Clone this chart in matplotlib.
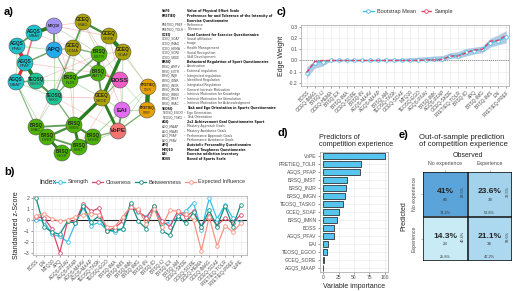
import matplotlib
matplotlib.use('Agg')
import matplotlib.pyplot as plt
import numpy as np
from matplotlib.lines import Line2D
from matplotlib.patches import Circle
from matplotlib.colors import LinearSegmentedColormap, Normalize
from matplotlib import font_manager as fm

plt.rcParams['font.family'] = ['Liberation Sans', 'DejaVu Sans']
_font_names = {f.name for f in fm.fontManager.ttflist}
_cond = [f for f in fm.fontManager.ttflist if f.stretch in ('condensed', 'semi-condensed', 'extra-condensed')]
if 'Liberation Sans Narrow' in _font_names:
    NARROW = dict(family=['Liberation Sans Narrow'])
elif _cond:
    NARROW = dict(family=[_cond[0].name], fontstretch=_cond[0].stretch)
else:
    NARROW = dict(family=['Liberation Sans'])

# ---------------- DATA ----------------
net_nodes = ['MTQ10', 'GCEQ_IMAG', 'AGQS_MAAV', 'APQ', 'GCEQ_HEMA', 'GCEQ_SORE', 'GCEQ_SOAF',
             'AGQS_PFAV', 'BRSQ_EXTR', 'AGQS_PFAP', 'BRSQ_AMTV', 'BRSQ_INJR', 'TEOSQ_EGOO',
             'AGQS_MAAP', 'BOSS', 'PRETIEQ_TOLR', 'TEOSQ_TSKO', 'GCEQ_SKDE', 'EAI', 'PRETIEQ_PREF',
             'VoPE', 'BRSQ_IMAC', 'BRSQ_IMKN', 'BRSQ_IDNR', 'BRSQ_IMGN', 'BRSQ_IMST', 'BRSQ_INGR']
net_x = [54, 83, 34, 54, 73, 109, 123, 17, 99, 25, 98, 70, 36, 16, 120, 148, 54, 102, 122, 147,
         118, 36, 74, 47, 93, 79, 62]
net_y = [26, 22, 33, 50, 48, 36, 52, 46, 54, 63, 73, 80, 81, 82, 80, 87, 97, 98, 110, 110,
         131, 127, 125, 137, 137, 147, 153]
net_edges = [
    ('AGQS_MAAV', 'MTQ10', 0.35), ('AGQS_MAAV', 'AGQS_PFAV', 0.15), ('AGQS_PFAV', 'AGQS_PFAP', -0.35),
    ('AGQS_PFAP', 'AGQS_MAAP', -0.28), ('AGQS_MAAV', 'AGQS_PFAP', -0.12), ('AGQS_PFAP', 'TEOSQ_EGOO', 0.35),
    ('AGQS_MAAP', 'TEOSQ_EGOO', 0.12), ('APQ', 'MTQ10', 0.15), ('APQ', 'AGQS_PFAP', 0.12),
    ('APQ', 'GCEQ_HEMA', 0.08), ('GCEQ_IMAG', 'GCEQ_SORE', 0.2), ('GCEQ_SORE', 'GCEQ_SOAF', 0.38),
    ('GCEQ_SOAF', 'GCEQ_SKDE', 0.3), ('GCEQ_IMAG', 'GCEQ_HEMA', 0.15), ('GCEQ_HEMA', 'BRSQ_EXTR', 0.1),
    ('BRSQ_EXTR', 'BRSQ_AMTV', 0.3), ('BRSQ_AMTV', 'BRSQ_INJR', 0.22), ('BRSQ_EXTR', 'BRSQ_INJR', 0.12),
    ('BRSQ_INJR', 'TEOSQ_TSKO', 0.1), ('TEOSQ_TSKO', 'TEOSQ_EGOO', 0.18), ('GCEQ_SKDE', 'BRSQ_IMKN', 0.3),
    ('GCEQ_SKDE', 'BRSQ_AMTV', 0.15), ('EAI', 'VoPE', 0.15), ('PRETIEQ_TOLR', 'PRETIEQ_PREF', 0.42),
    ('VoPE', 'PRETIEQ_PREF', 0.1), ('VoPE', 'GCEQ_SKDE', 0.25), ('BRSQ_IMKN', 'BRSQ_IMST', 0.25),
    ('BRSQ_IMST', 'BRSQ_IMGN', 0.38), ('BRSQ_IMKN', 'BRSQ_IMGN', 0.2), ('BRSQ_IMKN', 'BRSQ_IDNR', 0.2),
    ('BRSQ_IDNR', 'BRSQ_INGR', 0.25), ('BRSQ_IDNR', 'BRSQ_IMAC', 0.2), ('BRSQ_IMAC', 'BRSQ_IMKN', 0.15),
    ('BRSQ_INGR', 'BRSQ_IMST', 0.2), ('BRSQ_IDNR', 'BRSQ_IMST', 0.15), ('BRSQ_IMGN', 'VoPE', 0.1),
    ('AGQS_MAAP', 'BRSQ_IMAC', 0.08), ('TEOSQ_TSKO', 'BRSQ_IMKN', 0.1), ('GCEQ_HEMA', 'TEOSQ_TSKO', 0.08),
    ('APQ', 'BRSQ_INJR', 0.08), ('BOSS', 'BRSQ_AMTV', -0.1), ('BOSS', 'GCEQ_SKDE', 0.08),
    ('MTQ10', 'GCEQ_SORE', -0.05), ('MTQ10', 'GCEQ_IMAG', -0.04), ('APQ', 'BOSS', -0.04),
    ('GCEQ_IMAG', 'BOSS', -0.04), ('TEOSQ_EGOO', 'BRSQ_EXTR', -0.04), ('AGQS_PFAP', 'BRSQ_AMTV', -0.04),
    ('TEOSQ_TSKO', 'GCEQ_SKDE', -0.05), ('BRSQ_INJR', 'BRSQ_IMKN', -0.04), ('GCEQ_SORE', 'BOSS', -0.05),
    ('BRSQ_EXTR', 'EAI', -0.04), ('BRSQ_IMST', 'BOSS', -0.04), ('AGQS_MAAV', 'GCEQ_HEMA', -0.03),
    ('TEOSQ_TSKO', 'VoPE', -0.03), ('GCEQ_HEMA', 'BRSQ_IMAC', -0.04), ('MTQ10', 'BRSQ_INJR', -0.03),
    ('GCEQ_SOAF', 'PRETIEQ_TOLR', 0.04), ('GCEQ_SOAF', 'EAI', 0.05), ('BOSS', 'PRETIEQ_PREF', 0.03),
    ('EAI', 'PRETIEQ_PREF', 0.05), ('EAI', 'BRSQ_IMGN', 0.05), ('VoPE', 'BRSQ_IMST', 0.05),
    ('AGQS_MAAP', 'TEOSQ_TSKO', 0.05), ('AGQS_MAAP', 'BRSQ_IDNR', 0.04), ('MTQ10', 'BRSQ_EXTR', 0.04),
    ('APQ', 'TEOSQ_TSKO', 0.05), ('GCEQ_HEMA', 'BRSQ_AMTV', 0.04), ('GCEQ_IMAG', 'BRSQ_EXTR', 0.04),
    ('GCEQ_SORE', 'BRSQ_AMTV', 0.03), ('GCEQ_SOAF', 'BRSQ_AMTV', 0.04), ('PRETIEQ_TOLR', 'BRSQ_IMGN', 0.03),
    ('TEOSQ_EGOO', 'BRSQ_INJR', 0.04), ('AGQS_PFAV', 'APQ', 0.05), ('GCEQ_SKDE', 'EAI', 0.05),
    ('BRSQ_IMAC', 'TEOSQ_TSKO', 0.04), ('GCEQ_HEMA', 'BRSQ_IMKN', 0.03), ('GCEQ_SOAF', 'BRSQ_EXTR', 0.04),
    ('GCEQ_IMAG', 'BRSQ_INJR', 0.03), ('AGQS_PFAV', 'AGQS_MAAP', 0.04), ('PRETIEQ_TOLR', 'VoPE', 0.03),
    ('BRSQ_INJR', 'GCEQ_SKDE', 0.05), ('BOSS', 'EAI', -0.03), ('GCEQ_SORE', 'PRETIEQ_TOLR', -0.03),
]
group_colors = {'MTQ10': '#a394f2', 'GCEQ': '#aba200', 'AGQS': '#1ec3cb', 'APQ': '#22a9f0',
                'BRSQ': '#4cb300', 'TEOSQ': '#1fc495', 'BOSS': '#f25cc6', 'PRETIEQ': '#e6a000',
                'EAI': '#e26cf2', 'VoPE': '#f47474'}

legend_rows = [
    ('VoPE', 'Value of Physical Effort Scale', True),
    ('PRETIEQ', 'Preference for and Tolerance of the Intensity of', True),
    ('', 'Exercise Questionnaire', True),
    ('PRETIEQ_PREF', 'Preference', False), ('PRETIEQ_TOLR', 'Tolerance', False),
    ('GCEQ', 'Goal Content for Exercise Questionnaire', True),
    ('GCEQ_SOAF', 'Social affiliation', False), ('GCEQ_IMAG', 'Image', False),
    ('GCEQ_HEMA', 'Health Management', False), ('GCEQ_SORE', 'Social Recognition', False),
    ('GCEQ_SKDE', 'Skill Development', False),
    ('BRSQ', 'Behavioral Regulation of Sport Questionnaire', True),
    ('BRSQ_AMTV', 'Amotivation', False), ('BRSQ_EXTR', 'External regulation', False),
    ('BRSQ_INJR', 'Introjected regulation', False), ('BRSQ_IDNR', 'Identified Regulation', False),
    ('BRSQ_INGR', 'Integrated Regulation', False), ('BRSQ_IMGN', 'General Intrinsic Motivation', False),
    ('BRSQ_IMKN', 'Intrinsic Motivation for Knowledge', False),
    ('BRSQ_IMST', 'Intrinsic Motivation for Stimulation', False),
    ('BRSQ_IMAC', 'Intrinsic Motivation for Acknowledgment', False),
    ('TEOSQ', 'Task and Ego Orientation in Sports Questionnaire', True),
    ('TEOSQ_EGOO', 'Ego Orientation', False), ('TEOSQ_TSKO', 'Task Orientation', False),
    ('AGQ', '2x2 Achievement Goal Questionnaire Sport', True),
    ('AGQ_MAAP', 'Mastery Approach Goals', False), ('AGQ_MAAV', 'Mastery Avoidance Goals', False),
    ('AGQ_PFAP', 'Performance Approach Goals', False), ('AGQ_PFAV', 'Performance Avoidance Goals', False),
    ('APQ', 'Autotelic Personality Questionnaire', True),
    ('MTQ10', 'Mental Toughness Questionnaire', True),
    ('EAI', 'Exercise addiction inventory', True),
    ('BOSS', 'Bored of Sports Scale', True),
]

b_labels = ['BOSS', 'EAI', 'MTQ10', 'APQ', 'AGQS-PFAV', 'AGQS-PFAP', 'AGQS-MAAV', 'AGQS-MAAP',
            'TEOSQ-TASK', 'TEOSQ-EGO', 'BRSQ-IMA', 'BRSQ-IMS', 'BRSQ-IMK', 'BRSQ-IMG', 'BRSQ-IN',
            'BRSQ-ID', 'BRSQ-IJ', 'BRSQ-EX', 'BRSQ-AM', 'GCEQ-SKDE', 'GCEQ-SORE', 'GCEQ-HEMA',
            'GCEQ-IMAG', 'GCEQ-SOAF', 'PRETIEQ-TOLR', 'PRETIEQ-PREF', 'VoPE']
strength = [0.05, -0.1, -1.3, -1.5, -2.0, -0.3, 1.2, -0.5, -0.2, -0.9, -1.1, -0.8, 1.4, 0.7, 0.3,
            1.2, -0.4, -0.2, 0.2, 0.8, 1.6, -0.9, 2.0, 0.1, 1.4, 0.2, -0.2]
closeness = [0.3, 0.2, -0.8, -3.0, -0.1, -0.1, 1.5, 0.8, 1.1, -1.0, -0.7, -0.1, 1.2, 0.8, 0.2,
             1.3, -0.1, -0.6, 0.8, 0.3, 0.8, -0.6, 0.4, -0.5, 0.2, -0.3, 0.5]
betweenness = [2.0, -0.6, -1.1, -1.3, -0.1, -0.3, 1.3, -0.2, 0.4, -1.0, -0.9, -0.8, 1.6, -0.1, -0.8,
               1.3, -1.0, -1.4, 0.4, -0.3, 0.7, -0.6, 0.9, -0.6, 1.3, -0.6, 1.4]
expected_infl = [0.4, 0.6, 0.1, -0.1, 0.0, 0.3, 0.5, 0.6, 0.5, -0.6, -0.6, 0.3, 1.2, 1.0, -0.4,
                 1.0, -0.6, 0.9, 0.8, 0.6, 0.0, -2.8, 0.3, -2.4, -0.5, -1.1, -0.3]

c_labels = ['BOSS', 'GCEQ-IMAG', 'BRSQ-IJ', 'GCEQ-HEMA', 'BRSQ-EX', 'BRSQ-IMA', 'GCEQ-SORE',
            'BRSQ-IN', 'AGQS-MAAV', 'AGQS-MAAP', 'BRSQ-AM', 'TEOSQ-TASK', 'GCEQ-SOAF', 'MTQ10',
            'TEOSQ-EGO', 'AGQS-PFAV', 'BRSQ-IMK', 'AGQS-PFAP', 'GCEQ-SKDE', 'PRETIEQ-TOLR',
            'BRSQ-ID', 'APQ', 'BRSQ-IMG', 'BRSQ-IMS', 'EAI', 'PRETIEQ-PREF']
boot_mean = [-0.11, -0.02, -0.01, 0, 0, 0, 0, 0, 0, 0, 0, 0, 0, 0, 0, 0.005, 0.01, 0.01, 0.04,
             0.045, 0.075, 0.09, 0.1, 0.16, 0.18, 0.21]
sample_w = [-0.11, -0.01, 0, 0, 0, 0, 0, 0, 0, 0, 0, 0, 0, 0, 0, 0.005, 0.005, 0.01, 0.04,
            0.04, 0.07, 0.095, 0.1, 0.175, 0.18, 0.23]
ci_low = [-0.16, -0.07, -0.05, -0.005, -0.003, -0.002, -0.002, -0.002, -0.002, -0.002, -0.002, -0.002,
          -0.002, -0.002, -0.002, -0.003, -0.005, -0.005, 0.02, 0.02, 0.04, 0.06, 0.07, 0.12, 0.14, 0.16]
ci_high = [-0.06, 0.0, 0.01, 0.002, 0.002, 0.002, 0.003, 0.004, 0.006, 0.008, 0.012, 0.016, 0.02,
           0.025, 0.03, 0.035, 0.04, 0.045, 0.07, 0.08, 0.11, 0.12, 0.13, 0.2, 0.23, 0.27]

d_labels = ['VoPE', 'PRETIEQ_TOLR', 'AGQS_PFAP', 'BRSQ_IMST', 'BRSQ_INJR', 'BRSQ_IMGN',
            'TEOSQ_TASKO', 'GCEQ_SOAF', 'BRSQ_IMKN', 'BOSS', 'AGQS_PFAV', 'EAI', 'TEOSQ_EGOO',
            'GCEQ_SORE', 'AGQS_MAAP']
d_values = [100, 62, 60, 38, 37, 35, 32, 26, 23, 17, 17, 8, 6, 2, 0.3]

e_classes = ['No experience', 'Experience']
e_counts = np.array([[66, 38], [23, 34]])

# ---------------- FIGURE ----------------
W, H = 520, 291
fig = plt.figure(figsize=(W / 100, H / 100), dpi=100)


def ax_px(x0, y0, x1, y1):
    return fig.add_axes([x0 / W, 1 - y1 / H, (x1 - x0) / W, (y1 - y0) / H])


def ptxt(x, y, s, **kw):
    fig.text(x / W, 1 - y / H, s, **kw)


GRID = '#ebebeb'
BORDER = '#b3b3b3'


def style_bw(ax):
    for sp in ax.spines.values():
        sp.set_color(BORDER)
        sp.set_linewidth(0.6)
    ax.grid(True, color=GRID, lw=0.5)
    ax.set_axisbelow(True)
    ax.tick_params(length=1.5, width=0.4, color='#555555', labelsize=3.6, labelcolor='#4d4d4d', pad=1)


for lab, x, y in [('a)', 4, 12), ('b)', 4, 172), ('c)', 277, 12), ('d)', 277, 133), ('e)', 399, 135)]:
    ptxt(x, y, lab, fontsize=8, fontweight='bold', va='center', ha='left')

# ---------- (a) network ----------
axn = ax_px(0, 0, 162, 163)
axn.set_xlim(0, 162)
axn.set_ylim(163, 0)
axn.axis('off')
pos = {n: (x, y) for n, x, y in zip(net_nodes, net_x, net_y)}
for a, b, w in sorted(net_edges, key=lambda e: abs(e[2])):
    col = '#2a7d1e' if w > 0 else '#e8282a'
    if abs(w) < 0.07:
        col = '#6cbf5a' if w > 0 else '#ee8a8a'
    alpha = min(1.0, 0.35 + 2.5 * abs(w))
    axn.plot([pos[a][0], pos[b][0]], [pos[a][1], pos[b][1]], color=col,
             lw=0.3 + 7 * abs(w), alpha=alpha, solid_capstyle='round', zorder=1)
for n in net_nodes:
    grp = n.split('_')[0]
    x, y = pos[n]
    axn.add_patch(Circle((x, y), 8, facecolor=group_colors[grp], edgecolor='#555555', lw=0.4, zorder=3))
    if '_' in n:
        g, s = n.split('_')
        fs = 2.4 if grp == 'PRETIEQ' else 3.3
        axn.text(x, y - 2.0, g, ha='center', va='center', fontsize=fs, fontweight='bold', color='#222222', zorder=4)
        axn.text(x, y + 2.6, s, ha='center', va='center', fontsize=fs * 0.9, color='#333333', zorder=4)
    else:
        fs = 2.6 if n == 'MTQ10' else 4.6
        axn.text(x, y, n, ha='center', va='center', fontsize=fs, fontweight='bold', color='#222222', zorder=4)

# legend text block
y0, dy = 11, 4.62
for i, (abbr, desc, bold) in enumerate(legend_rows):
    yy = y0 + i * dy
    fw = 'bold' if bold else 'normal'
    col = '#111111' if bold else '#444444'
    if abbr:
        ptxt(162, yy, abbr, fontsize=2.45, fontweight=fw, color=col, va='center', **NARROW)
    if not bold:
        ptxt(183.5, yy, '–', fontsize=2.45, color=col, va='center', **NARROW)
    ptxt(187, yy, desc, fontsize=2.5, fontweight=fw, color=col, va='center', **NARROW)

# ---------- (b) centrality ----------
axb = ax_px(33, 196, 247, 255)
style_bw(axb)
xb = np.arange(len(b_labels))
b_series = [('Strength', strength, '#36bdea'), ('Closeness', closeness, '#d94a6e'),
            ('Betweenness', betweenness, '#138c7c'), ('Expected Influence', expected_infl, '#f79182')]
handles = []
for name, vals, col in b_series:
    axb.plot(xb, vals, color=col, lw=0.9, marker='o', ms=2.6, mfc='white', mec=col, mew=0.6)
    handles.append(Line2D([], [], color=col, lw=0.9, marker='o', ms=2.6, mfc='white', mec=col, mew=0.6))
axb.axhline(0, color='#222222', lw=0.8, zorder=1)
axb.set_xlim(-0.4, 26.8)
axb.set_ylim(-3.21, 2.21)
axb.set_yticks([-3, -2, -1, 0, 1, 2])
axb.set_xticks(xb)
axb.set_xticklabels(b_labels, rotation=45, ha='right', rotation_mode='anchor', fontsize=3.4)
axb.set_ylabel('Standardized z-Score', fontsize=5, labelpad=3, color='#222222')
ptxt(39, 182, 'Index', fontsize=5.0, va='center', color='#222222')
fig.legend(handles, [s[0] for s in b_series], loc='center left', bbox_to_anchor=(54 / W, 1 - 182 / H),
           ncol=4, frameon=False, fontsize=4.0, handlelength=2.0, columnspacing=0.7, handletextpad=0.4,
           labelcolor='#333333', borderaxespad=0, borderpad=0)

# ---------- (c) edge weights ----------
axc = ax_px(301, 25, 509, 86)
style_bw(axc)
xc = np.arange(len(c_labels))
axc.fill_between(xc, ci_low, ci_high, color='#a9c6e0', alpha=0.9, lw=0)
axc.axhline(0, color='#555555', lw=0.6, ls=(0, (1, 1.5)), zorder=1)
axc.plot(xc, boot_mean, color='#43bfea', lw=1.0, marker='o', ms=2.6, mfc='white', mec='#43bfea', mew=0.6, zorder=3)
axc.plot(xc, sample_w, color='#e0466a', lw=1.0, ls=(0, (3, 1.5)), zorder=4)
axc.set_xlim(-0.7, 25.35)
axc.set_ylim(-0.23, 0.32)
axc.set_yticks([-0.2, -0.1, 0.0, 0.1, 0.2, 0.3])
axc.set_yticklabels(['-0.2', '-0.1', '0.0', '0.1', '0.2', '0.3'])
axc.set_xticks(xc)
axc.set_xticklabels(c_labels, rotation=45, ha='right', rotation_mode='anchor', fontsize=3.4)
axc.set_ylabel('Edge Weight', fontsize=5, labelpad=3, color='#222222')
hc = [Line2D([], [], color='#43bfea', lw=1.0, marker='o', ms=2.6, mfc='white', mec='#43bfea', mew=0.6),
      Line2D([], [], color='#e0466a', lw=1.0, ls=(0, (3, 1.5)), marker='o', ms=2.6, mfc='white', mec='#e0466a', mew=0.6)]
fig.legend(hc, ['Bootstrap Mean', 'Sample'], loc='center', bbox_to_anchor=(408 / W, 1 - 11 / H),
           ncol=2, frameon=False, fontsize=4.0, handlelength=2.0, columnspacing=0.9, handletextpad=0.5,
           labelcolor='#333333')

# ---------- (d) variable importance ----------
axd = ax_px(320, 152, 388, 272)
style_bw(axd)
yd = np.arange(len(d_labels))
axd.barh(yd, d_values, height=0.72, color='#56c6f0', edgecolor='#333333', lw=0.6)
axd.set_ylim(len(d_labels) - 0.5, -0.5)
axd.set_xlim(-5, 105)
axd.set_xticks([0, 25, 50, 75, 100])
axd.set_yticks(yd)
axd.set_yticklabels(d_labels, fontsize=3.6)
axd.grid(True, axis='y', color=GRID, lw=0.5)
axd.set_xlabel('Variable importance', fontsize=5, labelpad=1.5, color='#222222')
ptxt(319, 141, 'Predictors of\ncompetition experience', fontsize=5.2, va='center', ha='left',
     color='#222222', linespacing=1.05)

# ---------- (e) confusion matrix ----------
axe = ax_px(423, 172, 512, 261)
cmap = LinearSegmentedColormap.from_list('bl', ['#cdeff8', '#5ba4da'])
axe.imshow(e_counts, cmap=cmap, norm=Normalize(vmin=e_counts.min() - 2, vmax=e_counts.max()),
           extent=(-0.5, 1.5, 1.5, -0.5))
for v in [-0.5, 0.5, 1.5]:
    axe.axhline(v, color='#111111', lw=1.1)
    axe.axvline(v, color='#111111', lw=1.1)
total = e_counts.sum()
col_tot = e_counts.sum(axis=0)
row_tot = e_counts.sum(axis=1)
for i in range(2):
    for j in range(2):
        c = e_counts[i, j]
        pct = 100 * c / total
        s = f'{pct:.0f}%' if abs(pct - round(pct)) < 0.05 else f'{pct:.1f}%'
        axe.text(j, i - 0.06, s, ha='center', va='center', fontsize=6, fontweight='bold', color='#222222')
        axe.text(j, i + 0.12, f'{c}', ha='center', va='center', fontsize=3.2, color='#333333')
        axe.text(j, i + 0.42, f'{100 * c / col_tot[j]:.1f}%', ha='center', va='center', fontsize=2.8, color='#333333')
        axe.text(j + 0.4, i - 0.06, f'{100 * c / row_tot[i]:.1f}%', ha='center', va='center', fontsize=2.8,
                 color='#333333', rotation=90)
axe.set_xlim(-0.5, 1.5)
axe.set_ylim(1.5, -0.5)
axe.set_aspect('auto')
for sp in axe.spines.values():
    sp.set_visible(False)
axe.xaxis.tick_top()
axe.set_xticks([0, 1])
axe.set_xticklabels(e_classes, fontsize=3.8, color='#4d4d4d')
axe.set_yticks([0, 1])
axe.set_yticklabels(e_classes, fontsize=3.8, color='#4d4d4d', rotation=90, va='center')
axe.tick_params(length=1.5, width=0.4, color='#888888', pad=3)
axe.xaxis.set_label_position('top')
axe.set_xlabel('Observed', fontsize=5, color='#222222', labelpad=3)
axe.set_ylabel('Predicted', fontsize=5, color='#222222', labelpad=3)
ptxt(419, 141, 'Out-of-sample prediction\nof competition experience', fontsize=5.6, va='center', ha='left',
     color='#222222', linespacing=1.05)

fig.savefig('out.png', dpi=100, facecolor='white')
